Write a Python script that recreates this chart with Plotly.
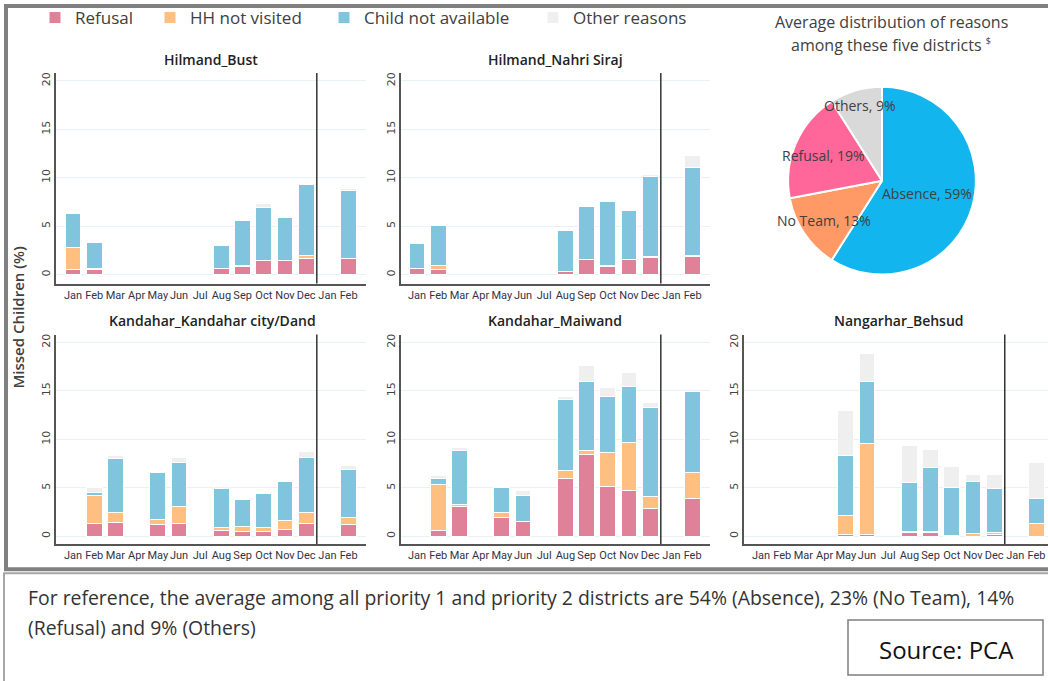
import math
import plotly.graph_objects as go

W, H = 1048, 681

# ---------------- data ----------------
months = ["Jan", "Feb", "Mar", "Apr", "May", "Jun", "Jul", "Aug", "Sep", "Oct", "Nov", "Dec", "Jan", "Feb"]
positions = list(range(1, 15))

reasons = ["Refusal", "HH not visited", "Child not available", "Other reasons"]
reason_colors = ["#E0819A", "#FFBF80", "#80C4DE", "#EFEFEF"]

N = None
# Hilmand_Bust
bust_refusal = [0.55, 0.50, N, N, N, N, N, 0.60, 0.82, 1.44, 1.44, 1.65, N, 1.65]
bust_hh      = [2.25, 0.10, N, N, N, N, N, 0.05, 0.10, 0.05, 0.05, 0.30, N, 0.05]
bust_child   = [3.50, 2.75, N, N, N, N, N, 2.35, 4.70, 5.40, 4.45, 7.40, N, 7.00]
bust_other   = [0.00, 0.00, N, N, N, N, N, 0.05, 0.00, 0.45, 0.00, 0.05, N, 0.20]
# Hilmand_Nahri Siraj
nahri_refusal = [0.62, 0.50, N, N, N, N, N, 0.30, 1.54, 0.82, 1.54, 1.75, N, 1.85]
nahri_hh      = [0.05, 0.40, N, N, N, N, N, 0.05, 0.05, 0.08, 0.05, 0.10, N, 0.10]
nahri_child   = [2.55, 4.14, N, N, N, N, N, 4.20, 5.48, 6.60, 5.03, 8.30, N, 9.10]
nahri_other   = [0.00, 0.00, N, N, N, N, N, 0.00, 0.00, 0.00, 0.00, 0.20, N, 1.25]
# Kandahar_Kandahar city/Dand
kcity_refusal = [N, 1.30, 1.37, N, 1.17, 1.30, N, 0.55, 0.45, 0.45, 0.70, 1.30, N, 1.17]
kcity_hh      = [N, 2.90, 1.13, N, 0.55, 1.80, N, 0.35, 0.60, 0.50, 0.90, 1.20, N, 0.80]
kcity_child   = [N, 0.28, 5.50, N, 4.90, 4.50, N, 4.00, 2.70, 3.45, 4.10, 5.65, N, 4.95]
kcity_other   = [N, 0.60, 0.30, N, 0.00, 0.55, N, 0.20, 0.05, 0.00, 0.00, 0.60, N, 0.35]
# Kandahar_Maiwand
maiw_refusal = [N, 0.55, 3.02, N, 1.89, 1.50, N, 5.97, 8.44, 5.18, 4.70, 2.88, N, 3.88]
maiw_hh      = [N, 4.80, 0.30, N, 0.55, 0.05, N, 0.80, 0.38, 3.43, 4.94, 1.24, N, 2.74]
maiw_child   = [N, 0.60, 5.50, N, 2.60, 2.67, N, 7.37, 7.20, 5.83, 5.83, 9.20, N, 8.27]
maiw_other   = [N, 0.30, 0.30, N, 0.00, 0.45, N, 0.30, 1.58, 0.90, 1.48, 0.45, N, 0.00]
# Nangarhar_Behsud
behs_refusal = [N, N, N, N, 0.20, 0.20, N, 0.34, 0.34, 0.05, 0.00, 0.20, N, 0.00]
behs_hh      = [N, N, N, N, 1.96, 9.37, N, 0.15, 0.10, 0.05, 0.30, 0.17, N, 1.30]
behs_child   = [N, N, N, N, 6.14, 6.35, N, 5.10, 6.70, 4.95, 5.30, 4.53, N, 2.58]
behs_other   = [N, N, N, N, 4.67, 2.95, N, 3.73, 1.82, 2.13, 0.78, 1.48, N, 3.77]

districts = ["Hilmand_Bust", "Hilmand_Nahri Siraj", "Kandahar_Kandahar city/Dand",
             "Kandahar_Maiwand", "Nangarhar_Behsud"]
district_series = [
    [bust_refusal, bust_hh, bust_child, bust_other],
    [nahri_refusal, nahri_hh, nahri_child, nahri_other],
    [kcity_refusal, kcity_hh, kcity_child, kcity_other],
    [maiw_refusal, maiw_hh, maiw_child, maiw_other],
    [behs_refusal, behs_hh, behs_child, behs_other],
]

pie_labels = ["Absence", "No Team", "Refusal", "Others"]
pie_values = [59, 13, 19, 9]
pie_colors = ["#12B5EE", "#FF9966", "#FF6699", "#D9D9D9"]

# ---------------- layout helpers ----------------
def px(x):
    return x / W

def py(y):
    return 1 - y / H

# panel geometry in pixels: (x0, x1, y_top, y_bottom, xrange, yrange)
panels = [
    (56, 366, 72, 283, [0.198, 14.82], [-0.93, 20.82]),
    (401, 710, 72, 283, [0.245, 14.82], [-0.93, 20.82]),
    (56, 366, 334, 544, [0.198, 14.82], [-0.82, 20.82]),
    (401, 710, 334, 544, [0.245, 14.82], [-0.82, 20.82]),
    (744, 1048, 334, 544, [0.198, 14.54], [-0.82, 20.82]),
]
title_centers = [(211, 59), (555, 59), (212, 320), (555, 320), (899, 320)]
legend_x = [35, 150, 324, 533]   # left edges of the four legend entries (px)

fig = go.Figure()
layout = dict(
    width=W, height=H,
    margin=dict(l=0, r=0, t=0, b=0),
    paper_bgcolor="white", plot_bgcolor="white",
    barmode="stack", bargap=0.25,
    showlegend=True,
    font=dict(family="Open Sans", color="#404040"),
)
legend_names = ["legend", "legend2", "legend3", "legend4"]
for j, ln in enumerate(legend_names):
    layout[ln] = dict(orientation="h", x=px(legend_x[j]), y=py(-1), xanchor="left", yanchor="top",
                      bgcolor="rgba(0,0,0,0)",
                      font=dict(family="Open Sans", size=17, color="#404040"),
                      itemclick=False, itemdoubleclick=False)

annotations = []
shapes = []

for i, (name, series) in enumerate(zip(districts, district_series)):
    k = i + 1
    xa = "x" if k == 1 else f"x{k}"
    ya = "y" if k == 1 else f"y{k}"
    x0, x1, yt, yb, xr, yr = panels[i]
    for j, (reason, vals) in enumerate(zip(reasons, series)):
        fig.add_trace(go.Bar(
            x=positions, y=vals, name=reason, xaxis=xa, yaxis=ya,
            marker=dict(color=reason_colors[j], line=dict(color="white", width=1)),
            width=0.75, legendgroup=reason, showlegend=(i == 0), legend=legend_names[j],
            hovertemplate=f"{name}<br>{reason}: %{{y}}%<extra></extra>",
        ))
    layout["xaxis" if k == 1 else f"xaxis{k}"] = dict(
        domain=[px(x0), px(x1)], anchor=ya, range=xr,
        tickmode="array", tickvals=positions, ticktext=months, tickangle=0,
        tickfont=dict(family="Liberation Sans Narrow, Roboto", size=11, color="#333344"),
        showgrid=False, zeroline=False, showline=True, linecolor="#555555", linewidth=1.5,
        ticks="", fixedrange=True,
    )
    layout["yaxis" if k == 1 else f"yaxis{k}"] = dict(
        domain=[py(yb), py(yt)], anchor=xa, range=yr,
        tickmode="array", tickvals=[0, 5, 10, 15, 20], tickangle=-90,
        tickfont=dict(family="DejaVu Sans", size=11, color="#444444"),
        showgrid=True, gridcolor="#EAF1F4", gridwidth=1, zeroline=False,
        showline=True, linecolor="#555555", linewidth=1.5, ticks="", fixedrange=True,
    )
    # separator between the two years
    shapes.append(dict(type="line", xref=xa, yref=f"{ya} domain", x0=12.5, x1=12.5, y0=0, y1=1,
                       line=dict(color="#333333", width=1.5)))
    tx, ty = title_centers[i]
    annotations.append(dict(text=name, x=px(tx), y=py(ty), xref="paper", yref="paper",
                            showarrow=False, xanchor="center", yanchor="middle",
                            font=dict(family="Open Sans", size=14, color="#222222", weight=600)))

# pie
cx, cy, R = 882, 180, 94
fig.add_trace(go.Pie(
    labels=pie_labels, values=pie_values, sort=False, direction="clockwise", rotation=0,
    marker=dict(colors=pie_colors, line=dict(color="white", width=2)),
    textinfo="none", showlegend=False,
    domain=dict(x=[px(cx - R), px(cx + R)], y=[py(cy + R), py(cy - R)]),
    hovertemplate="%{label}: %{value}%<extra></extra>",
))
label_radius = [0.5, 0.75, 0.68, 0.84]
cum = 0
for lab, val, rf in zip(pie_labels, pie_values, label_radius):
    mid = (cum + val / 2) / 100 * 2 * math.pi
    cum += val
    lx = cx + rf * R * math.sin(mid)
    ly = cy - rf * R * math.cos(mid)
    annotations.append(dict(text=f"{lab}, {val}%", x=px(lx), y=py(ly), xref="paper", yref="paper",
                            showarrow=False, xanchor="center", yanchor="middle",
                            font=dict(family="Open Sans", size=14, color="#404040")))

annotations.append(dict(text="Average distribution of reasons", x=px(891), y=py(21),
                        xref="paper", yref="paper", showarrow=False, xanchor="center", yanchor="middle",
                        font=dict(family="Open Sans", size=16, color="#404040")))
annotations.append(dict(text="among these five districts <sup><span style='font-size:9px'>$</span></sup>",
                        x=px(891), y=py(44),
                        xref="paper", yref="paper", showarrow=False, xanchor="center", yanchor="middle",
                        font=dict(family="Open Sans", size=16, color="#404040")))

# y-axis title
annotations.append(dict(text="Missed Children (%)", x=px(18), y=py(317), xref="paper", yref="paper",
                        showarrow=False, textangle=-90, xanchor="center", yanchor="middle",
                        font=dict(family="Open Sans", size=15, color="#404040", weight=600)))

# frames
shapes.append(dict(type="rect", xref="paper", yref="paper", x0=px(6), x1=px(1060), y0=py(569), y1=py(5),
                   line=dict(color="#808080", width=4), layer="above"))
shapes.append(dict(type="rect", xref="paper", yref="paper", x0=px(4), x1=px(1060), y0=py(690), y1=py(573),
                   line=dict(color="#A6A6A6", width=2), layer="above"))
shapes.append(dict(type="rect", xref="paper", yref="paper", x0=px(848), x1=px(1043), y0=py(675), y1=py(620),
                   line=dict(color="#7F7F7F", width=1.5), layer="above"))

# footer
annotations.append(dict(text="For reference, the average among all priority 1 and priority 2 districts are 54% (Absence), 23% (No Team), 14%",
                        x=px(26), y=py(597), xref="paper", yref="paper", showarrow=False,
                        xanchor="left", yanchor="middle",
                        font=dict(family="Open Sans", size=19.4, color="#333333")))
annotations.append(dict(text="(Refusal) and 9% (Others)",
                        x=px(26), y=py(627), xref="paper", yref="paper", showarrow=False,
                        xanchor="left", yanchor="middle",
                        font=dict(family="Open Sans", size=19.4, color="#333333")))
annotations.append(dict(text="Source: PCA", x=px(946), y=py(649), xref="paper", yref="paper",
                        showarrow=False, xanchor="center", yanchor="middle",
                        font=dict(family="Open Sans", size=24, color="#111111")))

layout["annotations"] = annotations
layout["shapes"] = shapes
fig.update_layout(**layout)
fig.write_html("out.html", config={"displayModeBar": False},
               post_script="document.body.style.margin='0px';")
